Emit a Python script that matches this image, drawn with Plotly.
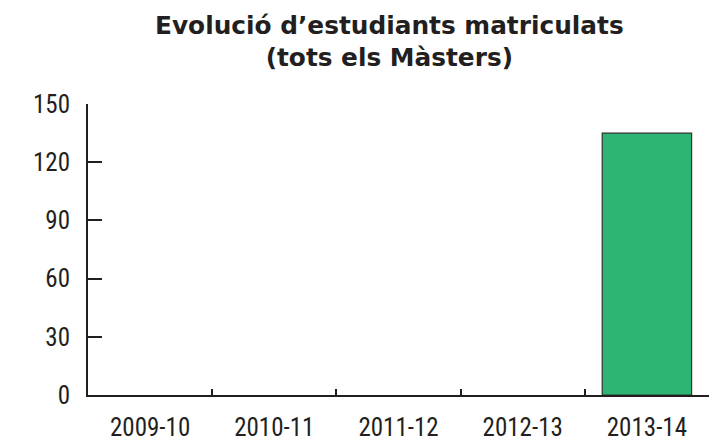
import plotly.graph_objects as go

categories = ["2009-10", "2010-11", "2011-12", "2012-13", "2013-14"]
values = [0, 0, 0, 0, 135]
y_ticks = [0, 30, 60, 90, 120, 150]
title_lines = ["Evolució d’estudiants matriculats", "(tots els Màsters)"]

axis_color = "#231f20"
bar_color = "#2db574"
tick_font = dict(family="Liberation Sans Narrow, Roboto Condensed, Roboto, sans-serif", size=25, color="#231f20")

fig = go.Figure(go.Bar(
    x=categories, y=values,
    marker=dict(color=bar_color,
                line=dict(color="#333333", width=[1.2 if v > 0 else 0 for v in values])),
    width=0.72,
))

plot_w = 710 - 88 - 1
fig.update_layout(
    width=710, height=445,
    margin=dict(l=88, r=1, t=104, b=50),
    paper_bgcolor="white", plot_bgcolor="white",
    showlegend=False,
    annotations=[dict(
        text="<br>".join(title_lines),
        x=(389 - 88) / plot_w, xref="paper", xanchor="center",
        y=1 + 95/291, yref="paper", yanchor="top",
        showarrow=False, align="center",
        font=dict(family="DejaVu Sans, sans-serif", size=24.8, color="#231f20", weight="bold"),
    )],
)

fig.update_xaxes(
    type="category", range=[-0.5, 4.5], automargin=False,
    showline=True, linecolor=axis_color, linewidth=2,
    ticks="inside", tickson="boundaries", ticklen=6, tickwidth=2, tickcolor=axis_color,
    showgrid=False, zeroline=False,
    tickfont=tick_font, ticklabelstandoff=9,
)
fig.update_yaxes(
    range=[0, 150], tickvals=y_ticks, automargin=False,
    showline=True, linecolor=axis_color, linewidth=2,
    ticks="inside", ticklen=14, tickwidth=2, tickcolor=axis_color,
    showgrid=False, zeroline=False,
    tickfont=tick_font, ticklabelstandoff=11,
)

fig.write_html("out.html", config={"displayModeBar": False},
               post_script="document.body.style.margin='0';")
